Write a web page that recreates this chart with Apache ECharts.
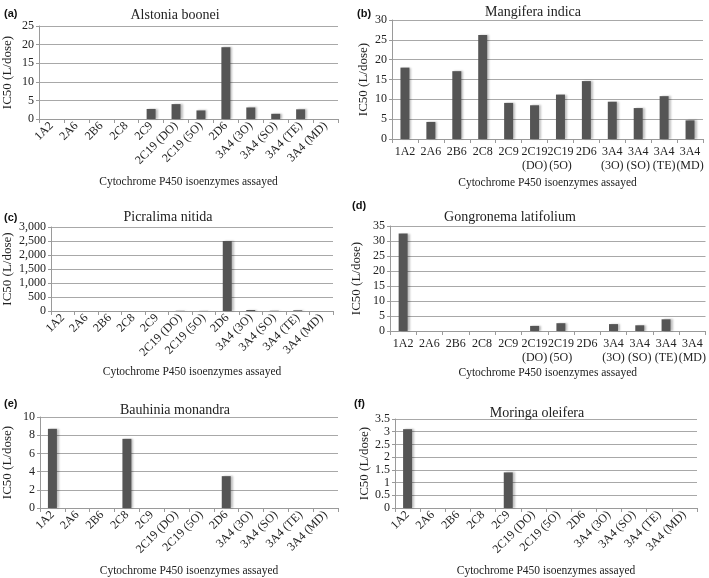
<!DOCTYPE html>
<html>
<head>
<meta charset="utf-8">
<script src="https://cdn.jsdelivr.net/npm/echarts@6/dist/echarts.min.js"></script>
<style>
  html, body { margin: 0; padding: 0; background: #fff; }
  #chart { width: 709px; height: 578px; }
</style>
</head>
<body>
<div id="chart"></div>
<script>
// isoenzymes assayed (shared by all panels)
var categories = ['1A2', '2A6', '2B6', '2C8', '2C9', '2C19 (DO)', '2C19 (5O)', '2D6',
  '3A4 (3O)', '3A4 (SO)', '3A4 (TE)', '3A4 (MD)'];

var panelTitles = ['Alstonia boonei', 'Mangifera indica', 'Picralima nitida',
  'Gongronema latifolium', 'Bauhinia monandra', 'Moringa oleifera'];
var panelLetters = ['(a)', '(b)', '(c)', '(d)', '(e)', '(f)'];

// IC50 values (L/dose)
var alstonia   = [0, 0, 0, 0, 2.7, 4.0, 2.3, 19.3, 3.1, 1.4, 2.6, 0];
var mangifera  = [18.0, 4.3, 17.1, 26.2, 9.1, 8.5, 11.2, 14.6, 9.4, 7.8, 10.8, 4.7];
var picralima  = [0, 0, 0, 0, 0, 8, 5, 2500, 35, 10, 25, 0];
var gongronema = [32.5, 0, 0, 0, 0, 1.7, 2.6, 0, 2.3, 1.9, 3.9, 0];
var bauhinia   = [8.7, 0, 0, 7.6, 0, 0, 0, 3.5, 0, 0, 0, 0];
var moringa    = [3.1, 0, 0, 0, 1.4, 0, 0, 0, 0, 0, 0, 0];

var seriesData = [alstonia, mangifera, picralima, gongronema, bauhinia, moringa];

// y axis ranges
var yMax = [25, 30, 3000, 35, 10, 3.5];
var yStep = [5, 5, 500, 5, 2, 0.5];

// layout of each panel (px)
var grids = [
  { left: 39, top: 26, width: 299, height: 93 },
  { left: 392, top: 20, width: 311, height: 119 },
  { left: 50, top: 227, width: 283, height: 84 },
  { left: 390, top: 226, width: 316, height: 105 },
  { left: 39, top: 417, width: 299, height: 92 },
  { left: 395, top: 419, width: 302, height: 90 }
];
var rotated = [true, false, true, false, true, true];
var yNameGap = [25, 22, 37, 27, 26, 23];
var xNameGap = [57, 38, 55, 36, 57, 57];
var titlePos = [[170, 3], [528, 0], [163, 205], [505, 205], [170, 398], [532, 401]];
var letterPos = [[4, 8], [357, 8], [4, 212], [352, 200], [4, 398], [354, 398]];

var serif = 'Liberation Serif';
var grey = '#9a9a9a';

var option = {
  animation: false,
  title: [],
  grid: [],
  xAxis: [],
  yAxis: [],
  series: [],
  graphic: []
};

for (var i = 0; i < 6; i++) {
  option.grid.push(Object.assign({ containLabel: false }, grids[i]));
  option.title.push({
    text: panelTitles[i],
    left: titlePos[i][0],
    top: titlePos[i][1],
    textAlign: 'center',
    textStyle: { fontFamily: serif, fontSize: 14, fontWeight: 'normal', color: '#222' }
  });
  option.graphic.push({
    type: 'text',
    left: letterPos[i][0],
    top: letterPos[i][1],
    style: { text: panelLetters[i], font: 'bold 11px "Liberation Sans"', fill: '#111' }
  });
  option.xAxis.push({
    type: 'category',
    gridIndex: i,
    data: categories,
    name: 'Cytochrome P450 isoenzymes assayed',
    nameLocation: 'middle',
    nameGap: xNameGap[i],
    nameTextStyle: { fontFamily: serif, fontSize: 11.5, color: '#222' },
    axisLine: { lineStyle: { color: grey } },
    axisTick: { show: true, length: 4, lineStyle: { color: grey } },
    axisLabel: {
      interval: 0,
      rotate: rotated[i] ? 45 : 0,
      margin: rotated[i] ? 5 : 6,
      fontFamily: serif,
      fontSize: 12,
      color: '#222',
      lineHeight: 14,
      formatter: rotated[i] ? null : function (v) { return v.replace(' ', '\n'); }
    }
  });
  option.yAxis.push({
    type: 'value',
    gridIndex: i,
    min: 0,
    max: yMax[i],
    interval: yStep[i],
    name: 'IC50 (L/dose)',
    nameLocation: 'middle',
    nameGap: yNameGap[i],
    nameTextStyle: { fontFamily: serif, fontSize: 13, color: '#222' },
    axisLine: { show: true, lineStyle: { color: grey } },
    axisTick: { show: true, length: 3, lineStyle: { color: grey } },
    axisLabel: {
      margin: 5,
      fontFamily: serif,
      fontSize: 12,
      color: '#222',
      formatter: function (v) { return v.toLocaleString('en-US'); }
    },
    splitLine: { lineStyle: { color: '#a8a8a8', width: 1 } }
  });
  option.series.push({
    type: 'bar',
    xAxisIndex: i,
    yAxisIndex: i,
    data: seriesData[i],
    barWidth: 9,
    itemStyle: {
      color: '#555555',
      shadowColor: 'rgba(0,0,0,0.25)',
      shadowBlur: 2,
      shadowOffsetX: 2,
      shadowOffsetY: 0
    }
  });
}

var chart = echarts.init(document.getElementById('chart'));
chart.setOption(option);
</script>
</body>
</html>
